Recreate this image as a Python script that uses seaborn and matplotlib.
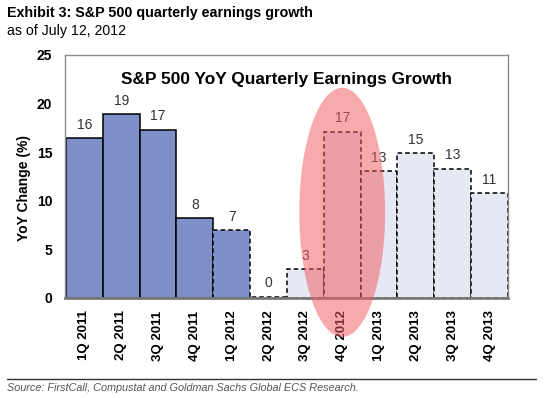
import matplotlib
matplotlib.use('Agg')
import matplotlib.pyplot as plt
import seaborn as sns
from matplotlib.patches import Ellipse

quarters = ['1Q 2011', '2Q 2011', '3Q 2011', '4Q 2011', '1Q 2012', '2Q 2012',
            '3Q 2012', '4Q 2012', '1Q 2013', '2Q 2013', '3Q 2013', '4Q 2013']
growth = [16.4, 18.9, 17.3, 8.2, 7.0, 0.15, 3.0, 17.1, 13.0, 14.9, 13.3, 10.8]
labels = ['16', '19', '17', '8', '7', '0', '3', '17', '13', '15', '13', '11']
# actual vs estimate
actual = [True, True, True, True, True, False, False, False, False, False, False, False]
dashed = [False, False, False, False, True, True, True, True, True, True, True, True]

sns.set_theme(style='white')
plt.rcParams['font.family'] = ['Liberation Sans', 'DejaVu Sans']

fig = plt.figure(figsize=(5.45, 3.98), dpi=100)
ax = fig.add_axes([0.119, 0.2513, 0.813, 0.6113])

fill_colors = {q: ('#7f8fc8' if a else '#e6e8f4') for q, a in zip(quarters, actual)}
sns.barplot(x=quarters, y=growth, hue=quarters, palette=fill_colors, width=1,
            saturation=1, edgecolor='black', linewidth=1.1, legend=False, ax=ax)

for i, p in enumerate(ax.patches[:len(quarters)]):
    if dashed[i]:
        p.set_linestyle((0, (3, 2)))
    ax.annotate(labels[i], (i, growth[i]), xytext=(0, 9.5), textcoords='offset points',
                ha='center', va='center', fontsize=10, color='#333333')

ell = Ellipse((7, 8.8), 2.33, 25.6, facecolor='#f05a60', alpha=0.52,
              edgecolor='none', zorder=5, clip_on=False)
ax.add_patch(ell)

ax.set_xlim(-0.53, 11.5)
ax.set_ylim(0, 25)
ax.set_yticks([0, 5, 10, 15, 20, 25])
ax.tick_params(axis='both', length=0)
ax.tick_params(axis='y', pad=9, labelsize=10)
ax.tick_params(axis='x', pad=9, labelsize=9.5, rotation=90)
for t in ax.get_xticklabels() + ax.get_yticklabels():
    t.set_fontweight('bold')
    t.set_color('black')

ax.set_xlabel('')
ax.set_ylabel('YoY Change (%)', fontsize=10, fontweight='bold', color='black')
ax.yaxis.set_label_coords(-0.077, 0.45)

for s in ['top', 'right', 'left']:
    ax.spines[s].set_color('#8c8c8c')
    ax.spines[s].set_linewidth(1)
ax.spines['bottom'].set_color('#7a7a7a')
ax.spines['bottom'].set_linewidth(2)

ax.text(0.5, 0.90, 'S&P 500 YoY Quarterly Earnings Growth', transform=ax.transAxes,
        ha='center', va='center', fontsize=12.4, fontweight='bold', color='black')

fig.text(0.013, 0.985, 'Exhibit 3: S&P 500 quarterly earnings growth', ha='left', va='top',
         fontsize=10.3, fontweight='bold', color='black')
fig.text(0.013, 0.94, 'as of July 12, 2012', ha='left', va='top', fontsize=10.2, color='black')

fig.add_artist(plt.Line2D([0.013, 0.984], [0.048, 0.048], transform=fig.transFigure,
                          color='#333333', linewidth=1))
fig.text(0.013, 0.025, 'Source: FirstCall, Compustat and Goldman Sachs Global ECS Research.',
         ha='left', va='center', fontsize=7.8, style='italic', color='#555555')

fig.savefig('out.png', dpi=100)
